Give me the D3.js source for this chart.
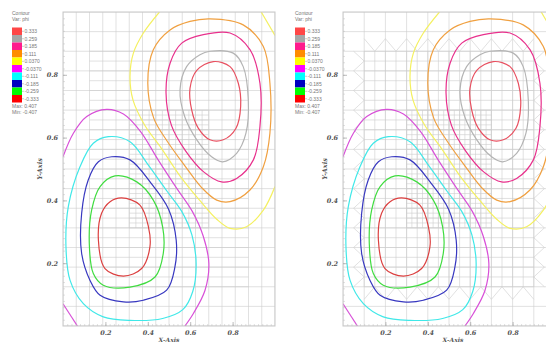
<!DOCTYPE html>
<html><head><meta charset="utf-8">
<script src="https://cdn.jsdelivr.net/npm/d3@7"></script>
<style>body{margin:0;background:#fff}svg{display:block}</style>
</head><body>
<svg id="c" width="546" height="343"></svg>
<script>
// ---- data ----
const levelValues = [0.333,0.259,0.185,0.111,0.037,-0.037,-0.111,-0.185,-0.259,-0.333];
const levelLabels = ["0.333","0.259","0.185","0.111","0.0370","-0.0370","-0.111","-0.185","-0.259","-0.333"];
const levelColors = ["#ff4646","#a6a6a6","#ff1a8c","#ff8c00","#ffff00","#ff00ff","#00ffff","#0000c0","#00ff00","#ff0000"];
const lineColors  = ["#e85060","#b4b4b4","#e8308c","#f0a040","#f4f060","#d850d8","#40e8e8","#3838c0","#40dc40","#dc4040"];
const xTicks = [0.2,0.4,0.6,0.8];
const yTicks = [0.2,0.4,0.6,0.8];
const maxLabel = "Max: 0.407", minLabel = "Min: -0.407";

// contour polylines [x, y]
const cPos333 = [[0.709,0.842],[0.788,0.826],[0.827,0.773],[0.838,0.699],[0.816,0.630],[0.756,0.593],[0.693,0.593],[0.638,0.630],[0.607,0.688],[0.599,0.757],[0.631,0.814]];
const cPos259 = [[0.693,0.875],[0.803,0.869],[0.850,0.826],[0.874,0.720],[0.863,0.614],[0.819,0.550],[0.753,0.523],[0.701,0.539],[0.631,0.593],[0.574,0.667],[0.552,0.752],[0.583,0.826],[0.646,0.864]];
const cPos185 = [[0.662,0.928],[0.788,0.933],[0.882,0.880],[0.929,0.773],[0.929,0.635],[0.898,0.529],[0.819,0.470],[0.748,0.459],[0.665,0.490],[0.578,0.558],[0.512,0.638],[0.486,0.742],[0.505,0.837],[0.560,0.901]];
const cPos111 = [[0.693,0.978],[0.850,0.959],[0.945,0.890],[0.976,0.773],[0.976,0.614],[0.945,0.507],[0.882,0.433],[0.788,0.396],[0.725,0.401],[0.655,0.440],[0.575,0.510],[0.490,0.590],[0.428,0.662],[0.400,0.773],[0.426,0.880],[0.505,0.943],[0.599,0.970]];
const cPos037a = [[0.455,1.0],[0.379,0.933],[0.332,0.869],[0.316,0.795],[0.330,0.720],[0.385,0.640],[0.465,0.565],[0.555,0.475],[0.645,0.400],[0.725,0.340],[0.788,0.311],[0.866,0.316],[0.945,0.369],[1.0,0.444]];
const cPos037b = [[0.935,1.0],[1.0,0.925]];
const cNeg037a = [[0.0,0.539],[0.049,0.614],[0.112,0.667],[0.206,0.690],[0.285,0.675],[0.365,0.620],[0.448,0.530],[0.535,0.440],[0.610,0.365],[0.662,0.285],[0.688,0.199],[0.670,0.114],[0.615,0.040],[0.575,0.0]];
const cNeg037b = [[0.0,0.071],[0.068,0.0]];
const cNeg111 = [[0.214,0.603],[0.316,0.587],[0.400,0.515],[0.490,0.430],[0.560,0.365],[0.608,0.290],[0.628,0.199],[0.612,0.110],[0.565,0.052],[0.470,0.024],[0.316,0.018],[0.190,0.029],[0.096,0.071],[0.033,0.146],[0.014,0.252],[0.025,0.380],[0.080,0.507],[0.143,0.582]];
const cNeg185 = [[0.230,0.539],[0.316,0.529],[0.415,0.455],[0.498,0.372],[0.534,0.273],[0.528,0.188],[0.489,0.114],[0.379,0.082],[0.285,0.077],[0.175,0.098],[0.127,0.146],[0.088,0.231],[0.088,0.359],[0.119,0.465],[0.167,0.523]];
const cNeg259 = [[0.245,0.478],[0.348,0.459],[0.426,0.401],[0.470,0.316],[0.473,0.231],[0.434,0.156],[0.316,0.124],[0.190,0.130],[0.143,0.167],[0.124,0.263],[0.135,0.369],[0.175,0.444]];
const cNeg333 = [[0.277,0.408],[0.363,0.385],[0.403,0.316],[0.410,0.252],[0.371,0.183],[0.285,0.159],[0.198,0.183],[0.167,0.273],[0.182,0.359],[0.222,0.396]];

const contours = [
  {lev:0, closed:true,  pts:cPos333},
  {lev:1, closed:true,  pts:cPos259},
  {lev:2, closed:true,  pts:cPos185},
  {lev:3, closed:true,  pts:cPos111},
  {lev:4, closed:false, pts:cPos037a},
  {lev:4, closed:false, pts:cPos037b},
  {lev:5, closed:false, pts:cNeg037a},
  {lev:5, closed:false, pts:cNeg037b},
  {lev:6, closed:true,  pts:cNeg111},
  {lev:7, closed:true,  pts:cNeg185},
  {lev:8, closed:true,  pts:cNeg259},
  {lev:9, closed:true,  pts:cNeg333}
];

// mesh description (spacing, region)
const meshLeft = [
  {dir:"v", step:1/16, x0:0, x1:1, y0:0, y1:1},
  {dir:"h", step:1/16, x0:0, x1:1, y0:0, y1:1},
  {dir:"h", step:1/32, x0:2/16, x1:14/16, y0:2/16, y1:14/16},
  {dir:"h", step:1/64, x0:5/16, x1:11/16, y0:5/16, y1:11/16},
  {dir:"v", step:1/32, x0:5/16, x1:11/16, y0:5/16, y1:11/16}
];
const meshRight = [
  {dir:"v", step:1/10, x0:0, x1:1, y0:0, y1:1},
  {dir:"h", step:1/16, x0:0, x1:1, y0:0, y1:1},
  {dir:"v", step:1/20, x0:0.1, x1:0.9, y0:2/16, y1:14/16},
  {dir:"h", step:1/32, x0:0.1, x1:0.9, y0:2/16, y1:14/16},
  {dir:"v", step:1/40, x0:0.3, x1:0.7, y0:5/16, y1:11/16},
  {dir:"h", step:1/64, x0:0.3, x1:0.7, y0:5/16, y1:11/16}
];
// transition (hanging-node) templates of the right mesh: boundary of the refined block
const transRight = {x0:0.1, x1:0.9, y0:2/16, y1:14/16, dx:1/20, dy:1/32};

const panels = [
  {x0:63, x1:275, y0:12, y1:326, legendX:12, yTitleX:42, mesh:meshLeft, trans:null, id:"a", xtOff:0},
  {x0:343, x1:555, y0:12, y1:326, legendX:295, yTitleX:327, mesh:meshRight, trans:transRight, id:"b", xtOff:4}
];

const svg = d3.select("#c");

panels.forEach(p => {
  const x = d3.scaleLinear().domain([0,1]).range([p.x0,p.x1]);
  const y = d3.scaleLinear().domain([0,1]).range([p.y1,p.y0]);
  const g = svg.append("g");
  g.append("clipPath").attr("id","clip"+p.id).append("rect")
    .attr("x",p.x0).attr("y",p.y0).attr("width",p.x1-p.x0).attr("height",p.y1-p.y0);
  const plot = g.append("g").attr("clip-path","url(#clip"+p.id+")");

  // mesh
  const mesh = plot.append("g").attr("stroke","#cdcdcd").attr("stroke-width",0.6).attr("fill","none");
  p.mesh.forEach(m => {
    if (m.dir==="v") {
      const vals = d3.range(Math.round(m.x0/m.step), Math.round(m.x1/m.step)+1).map(i=>i*m.step);
      mesh.selectAll(null).data(vals).enter().append("line")
        .attr("x1",d=>x(d)).attr("x2",d=>x(d)).attr("y1",y(m.y0)).attr("y2",y(m.y1));
    } else {
      const vals = d3.range(Math.round(m.y0/m.step), Math.round(m.y1/m.step)+1).map(i=>i*m.step);
      mesh.selectAll(null).data(vals).enter().append("line")
        .attr("y1",d=>y(d)).attr("y2",d=>y(d)).attr("x1",x(m.x0)).attr("x2",x(m.x1));
    }
  });
  if (p.trans) {
    const t = p.trans;
    const tl = d3.line().x(d=>x(d[0])).y(d=>y(d[1]));
    const segs = [];
    d3.range(Math.round(t.x0/(2*t.dx)), Math.round(t.x1/(2*t.dx))).forEach(i=>{
      const xm = i*2*t.dx + t.dx;
      segs.push([[xm-t.dx, t.y1+0.04],[xm, t.y1],[xm+t.dx, t.y1+0.04]]);
      segs.push([[xm-t.dx, t.y0-0.04],[xm, t.y0],[xm+t.dx, t.y0-0.04]]);
    });
    d3.range(Math.round(t.y0/(2*t.dy)), Math.round(t.y1/(2*t.dy))).forEach(j=>{
      const ym = j*2*t.dy + t.dy;
      segs.push([[t.x0-0.05, ym-t.dy],[t.x0, ym],[t.x0-0.05, ym+t.dy]]);
      segs.push([[t.x1+0.05, ym-t.dy],[t.x1, ym],[t.x1+0.05, ym+t.dy]]);
    });
    mesh.selectAll(null).data(segs).enter().append("path").attr("d",tl);
  }

  // contours
  const lineC = d3.line().x(d=>x(d[0])).y(d=>y(d[1])).curve(d3.curveCatmullRomClosed.alpha(0.5));
  const lineO = d3.line().x(d=>x(d[0])).y(d=>y(d[1])).curve(d3.curveCatmullRom.alpha(0.5));
  plot.selectAll("path.c").data(contours).enter().append("path")
    .attr("class","c")
    .attr("d",d=>(d.closed?lineC:lineO)(d.pts))
    .attr("fill","none")
    .attr("stroke",d=>lineColors[d.lev])
    .attr("stroke-width",1.2);

  // frame
  g.append("rect").attr("x",p.x0).attr("y",p.y0).attr("width",p.x1-p.x0).attr("height",p.y1-p.y0)
    .attr("fill","none").attr("stroke","#c8c8c8").attr("stroke-width",1);

  // axes
  const ax = g.append("g").attr("transform",`translate(0,${p.y1})`)
    .call(d3.axisBottom(x).tickValues(d3.range(1,50).map(i=>i/50)).tickSize(-2).tickFormat(""));
  const ay = g.append("g").attr("transform",`translate(${p.x0},0)`)
    .call(d3.axisLeft(y).tickValues(d3.range(1,50).map(i=>i/50)).tickSize(-2).tickFormat(""));
  [ax,ay].forEach(a=>{a.select(".domain").remove(); a.selectAll("line").attr("stroke","#c0c0c0").attr("stroke-width",0.5);});
  const axM = g.append("g").attr("transform",`translate(0,${p.y1})`)
    .call(d3.axisBottom(x).tickValues(xTicks).tickSize(-4).tickPadding(4).tickFormat(d3.format(".1f")));
  const ayM = g.append("g").attr("transform",`translate(${p.x0},0)`)
    .call(d3.axisLeft(y).tickValues(yTicks).tickSize(-4).tickPadding(5).tickFormat(d3.format(".1f")));
  [axM,ayM].forEach(a=>{
    a.select(".domain").remove();
    a.selectAll("line").attr("stroke","#a0a0a0").attr("stroke-width",0.7);
    a.selectAll("text").attr("font-family","DejaVu Serif").attr("font-size",6.5)
      .attr("font-style","italic").attr("font-weight","bold").attr("fill","#555");
  });
  g.append("text").attr("x",x(0.5)+p.xtOff).attr("y",342).attr("text-anchor","middle")
    .attr("font-family","DejaVu Serif").attr("font-size",6).attr("font-style","italic").attr("font-weight","bold")
    .attr("fill","#555").text("X-Axis");
  g.append("text").attr("transform",`translate(${p.yTitleX},${(p.y0+p.y1)/2}) rotate(-90)`)
    .attr("text-anchor","middle").attr("font-family","DejaVu Serif").attr("font-size",6.5)
    .attr("font-style","italic").attr("font-weight","bold").attr("fill","#555").text("Y-Axis");

  // legend
  const lg = g.append("g").attr("transform",`translate(${p.legendX},0)`);
  const tf = {"font-family":"Liberation Sans","font-size":5,"fill":"#777"};
  const t1 = lg.append("text").attr("x",0).attr("y",15).text("Contour");
  const t2 = lg.append("text").attr("x",0).attr("y",21).text("Var: phi");
  const by = d3.scaleBand().domain(d3.range(levelValues.length)).range([27.5,102.5]);
  lg.selectAll("rect.b").data(levelValues).enter().append("rect").attr("class","b")
    .attr("x",0).attr("y",(d,i)=>by(i)).attr("width",10).attr("height",by.bandwidth())
    .attr("fill",(d,i)=>levelColors[i]);
  lg.selectAll("line.t").data(levelValues).enter().append("line").attr("class","t")
    .attr("x1",10).attr("x2",12).attr("y1",(d,i)=>by(i)+by.bandwidth()/2).attr("y2",(d,i)=>by(i)+by.bandwidth()/2)
    .attr("stroke","#999").attr("stroke-width",0.5);
  const labs = lg.selectAll("text.l").data(levelLabels).enter().append("text").attr("class","l")
    .attr("x",12.5).attr("y",(d,i)=>by(i)+by.bandwidth()/2+1.8).text(d=>d);
  const t3 = lg.append("text").attr("x",0).attr("y",108).text(maxLabel);
  const t4 = lg.append("text").attr("x",0).attr("y",113.5).text(minLabel);
  [t1,t2,t3,t4,labs].forEach(t=>{Object.entries(tf).forEach(([k,v])=>t.attr(k,v));});
});
</script>
</body></html>
